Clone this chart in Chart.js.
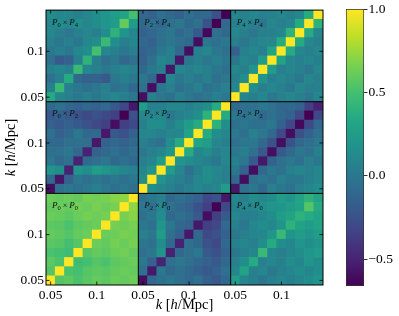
<!DOCTYPE html>
<html><head><meta charset="utf-8">
<script src="https://cdn.jsdelivr.net/npm/chart.js@4.4.0/dist/chart.umd.min.js"></script>
<style>
html,body{margin:0;padding:0;background:#fff;overflow:hidden;}
#wrap{position:relative;width:399px;height:316px;}
#main{position:absolute;left:0;top:0;}
#cbar{position:absolute;left:330px;top:0;}
</style></head><body>
<div id="wrap"><canvas id="main" width="330" height="316"></canvas><canvas id="cbar" width="69" height="316"></canvas></div>
<script>
// ---- data ----
const kBins = [0.05,0.06,0.07,0.08,0.09,0.10,0.11,0.12,0.13,0.14]; // bin centres, h/Mpc
const binWidth = 0.01;
const multipoles = [0, 2, 4];
const kTicks = [0.05, 0.1];
const kTickLabels = ['0.05', '0.1'];
const cbTicks = [-0.5, 0.0, 0.5, 1.0];
const cbTickLabels = ['\u22120.5', '0.0', '0.5', '1.0'];
const vMin = -0.66, vMax = 1.0;

// each block: rows from lowest k (bottom) to highest k (top); columns lowest k to highest k
const P0xP0 = [
 [1.00,0.55,0.58,0.52,0.57,0.60,0.58,0.62,0.60,0.63],
 [0.55,1.00,0.52,0.50,0.55,0.58,0.57,0.60,0.62,0.60],
 [0.58,0.52,1.00,0.48,0.50,0.55,0.52,0.58,0.60,0.62],
 [0.52,0.50,0.48,1.00,0.56,0.60,0.58,0.62,0.64,0.60],
 [0.57,0.55,0.50,0.56,1.00,0.62,0.60,0.65,0.62,0.66],
 [0.60,0.58,0.55,0.60,0.62,1.00,0.62,0.63,0.66,0.64],
 [0.58,0.57,0.52,0.58,0.60,0.62,1.00,0.65,0.63,0.66],
 [0.62,0.60,0.58,0.62,0.65,0.63,0.65,1.00,0.66,0.70],
 [0.60,0.62,0.60,0.64,0.62,0.66,0.63,0.66,1.00,0.72],
 [0.63,0.60,0.62,0.60,0.66,0.64,0.66,0.70,0.72,1.00]];
const P2xP0 = [
 [-0.60,-0.10,-0.05,0.00,-0.05,-0.10,-0.05,-0.15,-0.20,-0.10],
 [-0.05,-0.55,0.00,-0.10,-0.05,-0.10,-0.15,-0.20,-0.15,-0.05],
 [0.00,-0.15,-0.50,-0.05,0.00,-0.05,-0.10,-0.15,-0.20,-0.10],
 [-0.05,0.00,0.20,-0.50,-0.10,-0.05,0.00,-0.20,-0.25,-0.15],
 [0.00,-0.05,0.15,-0.10,-0.50,-0.05,-0.10,-0.25,-0.30,-0.10],
 [0.05,0.00,0.25,-0.05,-0.15,-0.55,-0.10,-0.30,-0.25,-0.15],
 [0.00,-0.05,0.20,0.00,-0.10,-0.15,-0.55,-0.35,-0.30,-0.10],
 [-0.05,0.00,0.15,-0.10,-0.05,-0.10,-0.20,-0.60,-0.35,-0.20],
 [0.00,-0.05,0.10,-0.05,-0.10,-0.15,-0.25,-0.35,-0.66,-0.30],
 [-0.05,0.00,0.05,-0.10,-0.05,-0.10,-0.15,-0.30,-0.25,-0.55]];
const P4xP0 = [
 [0.25,0.10,0.05,0.00,0.05,0.10,0.05,0.10,0.15,0.20],
 [0.10,0.30,0.05,0.10,0.00,0.05,0.10,0.15,0.10,0.15],
 [0.05,0.15,0.35,0.05,0.10,0.05,0.15,0.10,0.20,0.15],
 [0.00,0.05,0.10,0.45,0.10,0.05,0.10,0.15,0.20,0.25],
 [0.05,0.10,0.05,0.15,0.35,0.15,0.10,0.20,0.15,0.20],
 [0.00,0.05,0.10,0.10,0.20,0.45,0.20,0.25,0.20,0.25],
 [0.05,0.00,0.10,0.15,0.10,0.20,0.40,0.30,0.25,0.30],
 [0.10,0.05,0.05,0.10,0.15,0.25,0.30,0.40,0.35,0.30],
 [0.05,0.10,0.10,0.15,0.20,0.20,0.25,0.30,0.55,0.35],
 [0.10,0.05,0.15,0.10,0.15,0.25,0.20,0.30,0.40,0.30]];
const P0xP2 = [
 [-0.60,-0.05,0.00,-0.05,0.00,0.05,0.00,-0.05,0.00,-0.05],
 [-0.10,-0.55,-0.15,0.00,-0.05,0.00,-0.05,0.00,-0.05,0.00],
 [0.20,0.15,-0.50,0.20,0.15,0.25,0.20,0.15,0.10,0.05],
 [0.00,-0.10,-0.05,-0.50,-0.10,-0.05,0.00,-0.10,-0.05,-0.10],
 [-0.05,-0.05,0.00,-0.10,-0.50,-0.15,-0.10,-0.05,-0.10,-0.05],
 [-0.10,-0.10,-0.05,-0.05,-0.05,-0.55,-0.15,-0.10,-0.15,-0.10],
 [-0.05,-0.15,-0.10,0.00,-0.10,-0.10,-0.55,-0.20,-0.25,-0.15],
 [-0.15,-0.20,-0.15,-0.20,-0.25,-0.30,-0.35,-0.60,-0.35,-0.30],
 [-0.20,-0.15,-0.20,-0.25,-0.30,-0.25,-0.30,-0.35,-0.66,-0.25],
 [-0.10,-0.05,-0.10,-0.15,-0.10,-0.15,-0.10,-0.20,-0.30,-0.55]];
const P2xP2 = [
 [1.00,0.15,0.10,0.05,0.00,0.05,0.10,0.05,0.10,0.25],
 [0.15,1.00,0.20,0.10,0.05,0.00,0.10,0.15,0.10,0.05],
 [0.10,0.20,1.00,0.25,0.10,-0.05,0.05,0.15,0.10,0.05],
 [0.05,0.10,0.25,1.00,0.20,0.15,0.10,0.05,0.00,0.10],
 [0.00,0.05,0.10,0.20,1.00,0.35,0.10,0.15,0.05,0.10],
 [0.05,0.00,-0.05,0.15,0.35,1.00,0.30,0.25,0.10,0.05],
 [0.10,0.10,0.05,0.10,0.10,0.30,1.00,0.35,0.15,0.10],
 [0.05,0.15,0.15,0.05,0.15,0.25,0.35,1.00,0.40,0.15],
 [0.10,0.10,0.10,0.00,0.05,0.10,0.15,0.40,1.00,0.35],
 [0.25,0.05,0.05,0.10,0.10,0.05,0.10,0.15,0.35,1.00]];
const P4xP2 = [
 [-0.55,-0.05,0.00,-0.10,0.05,0.00,-0.05,0.05,0.10,0.15],
 [-0.10,-0.60,-0.05,0.00,-0.05,0.05,0.00,0.00,0.05,0.10],
 [0.00,-0.15,-0.60,-0.10,0.00,-0.05,0.05,0.10,0.05,0.10],
 [0.05,0.00,-0.20,-0.55,-0.15,-0.05,0.00,-0.05,0.05,0.00],
 [0.00,0.05,-0.05,-0.20,-0.60,-0.20,-0.10,0.00,-0.05,0.05],
 [-0.05,0.00,0.00,-0.10,-0.25,-0.60,-0.25,-0.10,-0.05,0.00],
 [0.00,-0.05,0.05,0.00,-0.10,-0.30,-0.60,-0.25,-0.15,-0.05],
 [-0.05,0.00,-0.05,-0.05,0.00,-0.15,-0.30,-0.62,-0.30,-0.10],
 [0.00,-0.05,0.00,-0.10,-0.05,-0.10,-0.15,-0.30,-0.66,-0.30],
 [-0.10,-0.05,-0.05,0.00,-0.05,-0.10,-0.10,-0.15,-0.35,-0.50]];
const P0xP4 = [
 [0.35,0.10,0.05,0.00,0.05,0.00,0.05,0.10,0.05,0.00],
 [0.05,0.45,0.05,0.00,-0.05,0.00,0.05,-0.05,0.00,-0.10],
 [-0.05,0.05,0.35,-0.10,-0.15,-0.15,-0.20,0.00,0.05,0.00],
 [0.05,0.10,0.05,0.45,0.10,0.05,0.00,0.05,0.10,0.05],
 [-0.05,-0.20,-0.15,0.05,0.40,0.05,-0.05,0.00,-0.10,-0.05],
 [0.00,0.05,0.00,0.10,0.15,0.50,0.10,0.05,0.00,0.05],
 [0.05,0.00,0.05,0.00,0.10,0.15,0.45,0.15,0.05,0.10],
 [0.10,0.05,0.00,0.05,0.10,0.05,0.15,0.40,0.20,0.10],
 [0.10,0.15,0.10,0.15,0.10,0.15,0.20,0.25,0.60,0.25],
 [0.15,0.10,0.10,0.05,0.10,0.15,0.20,0.25,0.30,0.50]];
const P2xP4 = [
 [-0.60,0.05,0.00,-0.05,0.05,0.00,-0.05,0.00,0.05,0.00],
 [-0.05,-0.60,0.00,0.05,-0.05,0.00,0.05,-0.05,0.00,0.05],
 [0.00,-0.10,-0.60,0.10,0.00,0.05,0.00,0.05,-0.05,0.00],
 [-0.10,0.00,0.05,-0.55,0.10,0.05,0.10,0.05,0.00,-0.05],
 [-0.15,-0.05,0.10,0.05,-0.55,0.00,0.05,0.00,0.05,0.00],
 [-0.15,-0.10,0.00,0.05,-0.10,-0.60,0.05,0.10,0.00,-0.05],
 [-0.10,-0.15,-0.05,0.00,-0.05,-0.10,-0.60,0.00,-0.05,0.00],
 [-0.15,-0.10,-0.05,0.00,-0.10,-0.05,-0.20,-0.62,-0.05,-0.10],
 [-0.10,-0.05,-0.10,-0.05,0.00,-0.10,-0.05,-0.25,-0.66,-0.10],
 [-0.10,-0.15,-0.05,-0.10,-0.15,-0.05,-0.10,-0.10,-0.25,-0.66]];
const P4xP4 = [
 [1.00,0.10,0.05,0.10,0.00,0.05,0.10,0.05,0.00,0.10],
 [0.10,1.00,0.15,0.05,0.10,0.05,0.00,0.10,0.05,0.05],
 [0.05,0.15,1.00,0.20,0.05,0.10,0.05,0.00,0.10,0.05],
 [0.10,0.05,0.20,1.00,0.25,0.05,0.10,0.05,0.00,0.10],
 [0.00,0.10,0.05,0.25,1.00,0.30,0.10,0.05,0.10,0.05],
 [-0.15,0.05,0.10,0.05,0.30,1.00,0.35,0.10,0.05,0.10],
 [0.05,0.00,0.05,0.10,0.10,0.35,1.00,0.35,0.10,0.05],
 [0.10,0.05,0.00,0.05,0.05,0.10,0.40,1.00,0.35,0.10],
 [0.05,0.10,0.05,0.00,0.10,0.05,0.10,0.35,1.00,0.40],
 [0.10,0.05,0.10,0.05,0.05,0.10,0.05,0.10,0.35,1.00]];

// block grid: [row multipole (bottom->top)][column multipole (left->right)]
const blockGrid = [[P0xP0, P2xP0, P4xP0], [P0xP2, P2xP2, P4xP2], [P0xP4, P2xP4, P4xP4]];

// ---- colour map ----
const VIRIDIS = ['#440154','#482475','#414487','#355f8d','#2a788e','#21918c','#22a884','#44bf70','#7ad151','#bddf26','#fde725'];
function hexToRgb(h){return [parseInt(h.slice(1,3),16),parseInt(h.slice(3,5),16),parseInt(h.slice(5,7),16)];}
function viridis(v){
  let t=(v-vMin)/(vMax-vMin); t=Math.max(0,Math.min(1,t));
  const s=t*(VIRIDIS.length-1); const i=Math.min(VIRIDIS.length-2,Math.floor(s)); const f=s-i;
  const a=hexToRgb(VIRIDIS[i]), b=hexToRgb(VIRIDIS[i+1]);
  return 'rgb('+a.map((c,j)=>Math.round(c+(b[j]-c)*f)).join(',')+')';
}

const SERIF = "'Liberation Serif','DejaVu Serif',serif";
const nB = kBins.length, nBlk = multipoles.length, nTot = nB*nBlk;
const tickPos = [], tickLab = [];
for (let b=0;b<nBlk;b++) kTicks.forEach((k,i)=>{ tickPos.push(b*nB + (k-kBins[0])/binWidth + 0.5); tickLab.push(kTickLabels[i]); });

const datasets = [];
for (let by=0; by<nBlk; by++) for (let r=0; r<nB; r++){
  const data=[], colors=[];
  for (let bx=0; bx<nBlk; bx++) for (let c=0; c<nB; c++){
    data.push({x: bx*nB + c + 0.5, y: 1});
    colors.push(viridis(blockGrid[by][bx][r][c]));
  }
  datasets.push({data, backgroundColor: colors, borderWidth: 0, barPercentage: 1, categoryPercentage: 1});
}

function line(ctx,x1,y1,x2,y2){ctx.beginPath();ctx.moveTo(x1,y1);ctx.lineTo(x2,y2);ctx.stroke();}
function drawRich(ctx, parts, x0, y0, align){
  let w=0; for (const [t,f] of parts){ ctx.font=f; w+=ctx.measureText(t).width; }
  let xx = align==='center' ? x0 - w/2 : x0;
  for (const [t,f,dy] of parts){ ctx.font=f; ctx.fillText(t,xx,y0+(dy||0)); xx+=ctx.measureText(t).width; }
}

const decor = {
  id:'decor',
  afterDatasetsDraw(chart){
    const {ctx, chartArea:a, scales:{x,y}} = chart;
    ctx.save();
    ctx.strokeStyle='#000'; ctx.lineWidth=1;
    for (let b=1;b<nBlk;b++){
      const px=x.getPixelForValue(b*nB); line(ctx,px,a.top,px,a.bottom);
      const py=y.getPixelForValue(b*nB); line(ctx,a.left,py,a.right,py);
    }
    ctx.strokeRect(a.left,a.top,a.right-a.left,a.bottom-a.top);
    ctx.lineWidth=0.8;
    for (const v of tickPos){
      const px=x.getPixelForValue(v); line(ctx,px,a.bottom,px,a.bottom-3.5); line(ctx,px,a.top,px,a.top+3.5);
      const py=y.getPixelForValue(v); line(ctx,a.left,py,a.left+3.5,py); line(ctx,a.right,py,a.right-3.5,py);
    }
    // block labels
    ctx.fillStyle='#111'; ctx.textBaseline='alphabetic'; ctx.textAlign='left';
    for (let by=0;by<nBlk;by++) for (let bx=0;bx<nBlk;bx++){
      const x0=x.getPixelForValue(bx*nB)+6, y0=y.getPixelForValue(by*nB+nB)+14.5;
      drawRich(ctx,[['P','italic 9px '+SERIF,0],[String(multipoles[bx]),'6.5px '+SERIF,2],[' \u00d7 ','8px '+SERIF,0],['P','italic 9px '+SERIF,0],[String(multipoles[by]),'6.5px '+SERIF,2]],x0,y0,'left');
    }
    // axis titles
    ctx.fillStyle='#000'; ctx.textBaseline='middle';
    const tParts=[['k','italic 14.5px '+SERIF],[' [','14.5px '+SERIF],['h','italic 14.5px '+SERIF],['/Mpc]','14.5px '+SERIF]];
    drawRich(ctx,tParts,(a.left+a.right)/2,305,'center');
    ctx.translate(11,(a.top+a.bottom)/2); ctx.rotate(-Math.PI/2);
    drawRich(ctx,tParts,0,0,'center');
    ctx.restore();
  }
};

const tickFont = {family: SERIF, size: 13.5};
new Chart(document.getElementById('main'), {
  type:'bar',
  data:{datasets},
  options:{
    responsive:false, animation:false, devicePixelRatio:1,
    layout:{padding:{top:7,right:7,left:0,bottom:0}},
    plugins:{legend:{display:false}, tooltip:{enabled:false}},
    scales:{
      x:{type:'linear', min:0, max:nTot, offset:false, stacked:true,
         grid:{display:false, drawTicks:false, offset:false}, border:{display:false},
         ticks:{autoSkip:false, maxRotation:0, padding:2, color:'#000', font:tickFont, callback:(v,i)=>tickLab[i]},
         afterBuildTicks:s=>{s.ticks=tickPos.map(v=>({value:v}));},
         afterFit:s=>{s.height=31;}},
      y:{type:'linear', min:0, max:nTot, stacked:true,
         grid:{display:false, drawTicks:false}, border:{display:false},
         ticks:{autoSkip:false, padding:2, color:'#000', font:tickFont, callback:(v,i)=>tickLab[i]},
         afterBuildTicks:s=>{s.ticks=tickPos.map(v=>({value:v}));},
         afterFit:s=>{s.width=46;}}
    }
  },
  plugins:[decor]
});

// ---- colour bar ----
new Chart(document.getElementById('cbar'), {
  type:'bar',
  data:{labels:[''], datasets:[{data:[[vMin, vMax]], borderWidth:1, borderColor:'#333', borderSkipped:false,
    barPercentage:1, categoryPercentage:1,
    backgroundColor:(c)=>{
      const ch=c.chart; const ys=ch.scales.y; if(!ch.chartArea||!ys) return VIRIDIS[5];
      const g=ch.ctx.createLinearGradient(0,ys.getPixelForValue(vMin),0,ys.getPixelForValue(vMax));
      VIRIDIS.forEach((col,i)=>g.addColorStop(i/(VIRIDIS.length-1),col));
      return g;
    }}]},
  options:{
    responsive:false, animation:false, devicePixelRatio:1,
    layout:{padding:{left:16,top:8,bottom:30,right:0}},
    plugins:{legend:{display:false}, tooltip:{enabled:false}},
    scales:{
      x:{display:false},
      y:{position:'right', min:vMin, max:vMax,
         grid:{display:true, drawOnChartArea:false, drawTicks:true, tickLength:3.5, tickColor:'#000', tickWidth:0.8}, border:{display:false},
         ticks:{padding:1, color:'#000', font:tickFont, callback:(v,i)=>cbTickLabels[i]},
         afterBuildTicks:s=>{s.ticks=cbTicks.map(v=>({value:v}));},
         afterFit:s=>{s.width=35;}}
    }
  }
});
</script>
</body></html>
